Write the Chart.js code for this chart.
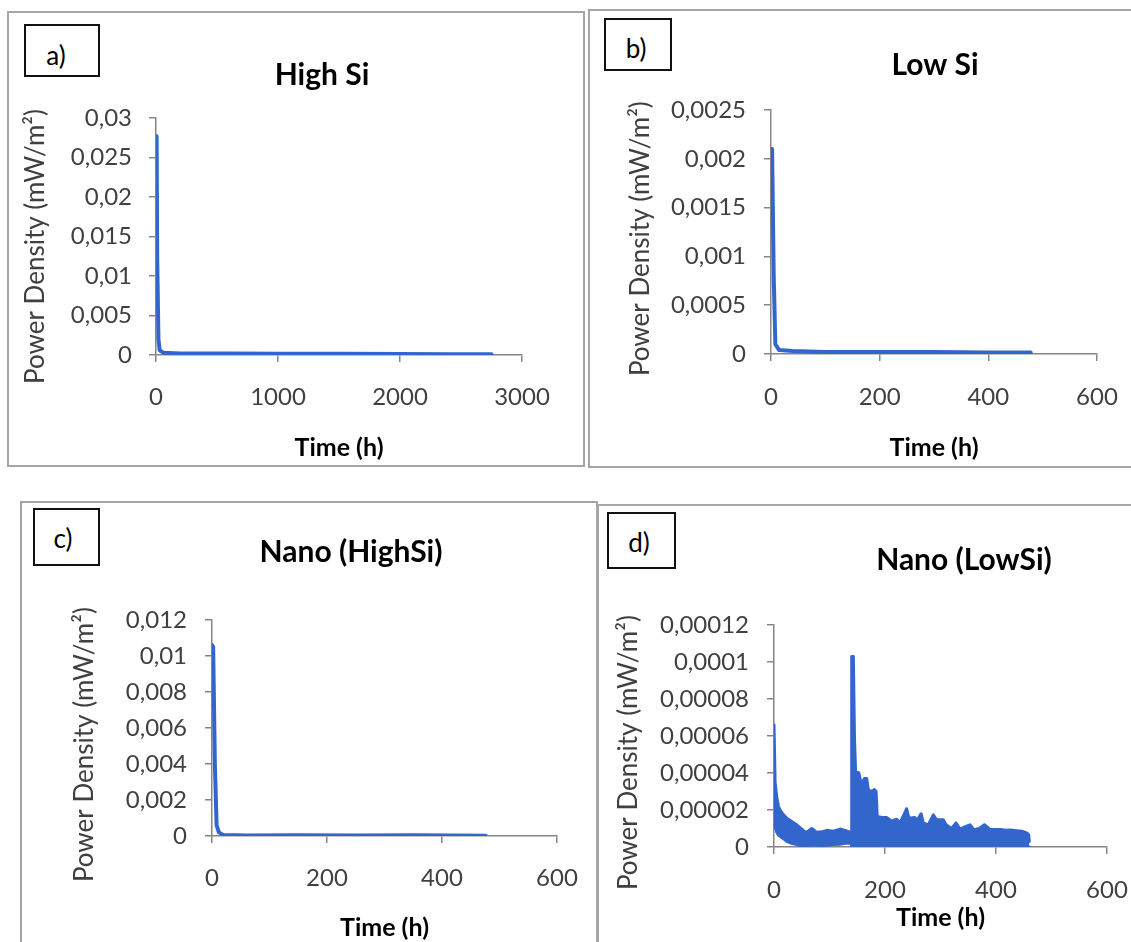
<!DOCTYPE html>
<html>
<head>
<meta charset="utf-8">
<script src="https://cdn.jsdelivr.net/npm/chart.js@4.4.1/dist/chart.umd.min.js"></script>
<style>
  html, body { margin: 0; padding: 0; background: #fff; }
  body { position: relative; width: 1131px; height: 942px; overflow: hidden; font-family: Lato, "Open Sans", sans-serif; }
  .panel { position: absolute; box-sizing: border-box; border: 2px solid #a6a6a6; }
  .tag { position: absolute; box-sizing: border-box; border: 2px solid #111; background: #fff;
         font-size: 26px; color: #000; z-index: 2; }
  .tag span { position: absolute; transform: translate(-50%, -50%); white-space: nowrap; }
</style>
</head>
<body>
<script>
// a) High Si
const highSiTime  = [0, 5, 10, 20, 30, 60, 200, 600, 1000, 1500, 2000, 2400, 2750];
const highSiPower = [0.0277, 0.0276, 0.012, 0.002, 0.0006, 0.0003, 0.0002, 0.0002, 0.00015, 0.00015, 0.00012, 0.0001, 0.0001];
const highSiYTicks = [0, 0.005, 0.01, 0.015, 0.02, 0.025, 0.03];
const highSiXTicks = [0, 1000, 2000, 3000];

// b) Low Si
const lowSiTime  = [0, 2, 5, 8, 15, 40, 100, 200, 300, 400, 478];
const lowSiPower = [0.0021, 0.0021, 0.0008, 0.0001, 0.00004, 0.00003, 0.00002, 0.00002, 0.00002, 0.000015, 0.000015];
const lowSiYTicks = [0, 0.0005, 0.001, 0.0015, 0.002, 0.0025];

// c) Nano (HighSi)
const nanoHighTime  = [0, 2, 5, 8, 12, 20, 60, 150, 250, 350, 476];
const nanoHighPower = [0.0106, 0.0105, 0.004, 0.0006, 0.0002, 0.00005, 0.00003, 0.00004, 0.00003, 0.00004, 0.00002];
const nanoHighYTicks = [0, 0.002, 0.004, 0.006, 0.008, 0.01, 0.012];

// d) Nano (LowSi) - upper and lower edge of the noisy band
const nanoLowTime = [0, 2, 5, 8, 11, 17, 23, 32, 41, 50, 56, 62, 68, 77, 86, 95, 107, 119, 128, 137, 139,
  140, 143, 145, 147, 153, 157, 163, 167, 170, 175, 181, 184, 186, 195, 203, 212, 221, 227, 235, 239, 243,
  253, 258, 265, 269, 278, 287, 293, 305, 310, 320, 328, 335, 345, 353, 360, 370, 379, 390, 400, 408, 418,
  426, 437, 447, 456, 459, 460];
const nanoLowUpper = [0.000066, 0.000035, 0.000027, 0.000022, 0.00002, 0.0000174, 0.0000156, 0.0000138, 0.000012,
  0.0000097, 0.000008, 0.0000085, 0.00001, 0.000008, 0.0000082, 0.000009, 0.0000085, 0.0000097, 0.000009, 0.000008, 0.000008,
  0.000103, 0.000103, 0.000059, 0.000041, 0.00004, 0.000034, 0.000037, 0.000037, 0.000031, 0.00003, 0.000031, 0.00003,
  0.0000165, 0.000016, 0.000016, 0.000014, 0.000015, 0.000013, 0.000018, 0.0000207, 0.0000156, 0.000016, 0.0000144,
  0.000018, 0.000013, 0.000012, 0.0000174, 0.0000147, 0.0000147, 0.000012, 0.00001, 0.000013, 0.0000097, 0.000011,
  0.000012, 0.0000094, 0.00001, 0.000012, 0.0000094, 0.0000095, 0.0000094, 0.000009, 0.0000092, 0.0000088, 0.0000085,
  0.0000075, 0.0000065, 0.000003];
const nanoLowLower = [0.000013, 0.000011, 0.000008, 0.0000065, 0.0000058, 0.0000045, 0.000003, 0.000002, 0.0000013,
  0.0000006, 0.0000004, 0.0000005, 0.000001, 0.000001, 0.0000007, 0.000001, 0.0000013, 0.0000015, 0.000002, 0.000002, 0.000002,
  0, 0, 0, 0, 0, 0, 0, 0, 0, 0, 0, 0,
  0, 0, 0, 0, 0, 0, 0, 0, 0, 0, 0,
  0, 0, 0, 0, 0, 0, 0, 0, 0, 0, 0,
  0, 0, 0, 0, 0, 0, 0, 0, 0, 0, 0,
  0, 0, 0];
const nanoLowYTicks = [0, 0.00002, 0.00004, 0.00006, 0.00008, 0.0001, 0.00012];

const time600Ticks = [0, 200, 400, 600];
const panelTitles = ['High Si', 'Low Si', 'Nano (HighSi)', 'Nano (LowSi)'];
const panelTags = ['a)', 'b)', 'c)', 'd)'];
const xAxisTitle = 'Time (h)';
const yAxisTitle = 'Power Density (mW/m²)';

const blue = '#3366cc';
const axisGray = '#868686';
const fontFamily = 'Lato, "Open Sans", sans-serif';

window.onload = function() {
    Chart.defaults.font.family = fontFamily;

    const panels = [
        {time: highSiTime, lines: [highSiPower], yTicks: highSiYTicks, xTicks: highSiXTicks, lw: 4,
         box: {l: 7, t: 11, w: 578, h: 456}, tag: {l: 24, t: 24, w: 76, h: 53, tx: 56, ty: 55},
         canvas: {l: 8, t: 12, h: 454}, area: {l: 156, r: 522, t: 118, b: 355},
         titleX: 322, titleY: 75, yTitleX: 36, yTitleY: 248, xTitleY: 448, xLabelY: 397, yLabelR: 132},
        {time: lowSiTime, lines: [lowSiPower], yTicks: lowSiYTicks, xTicks: time600Ticks, lw: 4,
         box: {l: 588, t: 9, w: 560, h: 459}, tag: {l: 604, t: 18, w: 68, h: 53, tx: 636, ty: 48},
         canvas: {l: 591, t: 10, h: 457}, area: {l: 771, r: 1097, t: 110, b: 354},
         titleX: 935, titleY: 65, yTitleX: 641, yTitleY: 240, xTitleY: 448, xLabelY: 397, yLabelR: 746},
        {time: nanoHighTime, lines: [nanoHighPower], yTicks: nanoHighYTicks, xTicks: time600Ticks, lw: 4,
         box: {l: 20, t: 501, w: 578, h: 460}, tag: {l: 33, t: 508, w: 67, h: 58, tx: 63, ty: 538},
         canvas: {l: 23, t: 502, h: 440}, area: {l: 212, r: 557, t: 620, b: 836},
         titleX: 351, titleY: 552, yTitleX: 85, yTitleY: 745, xTitleY: 928, xLabelY: 878, yLabelR: 187},
        {time: nanoLowTime, lines: [nanoLowUpper, nanoLowLower], yTicks: nanoLowYTicks, xTicks: time600Ticks, lw: 3,
         box: {l: 597, t: 504, w: 560, h: 460}, tag: {l: 607, t: 512, w: 69, h: 57, tx: 639, ty: 542},
         canvas: {l: 600, t: 505, h: 437}, area: {l: 774, r: 1107, t: 625, b: 847},
         titleX: 964, titleY: 560, yTitleX: 629, yTitleY: 753, xTitleY: 918, xLabelY: 890, yLabelR: 749}
    ];

    const fmt = v => String(v).replace('.', ',');
    const tl = 7, tickSize = 24, axTitleSize = 26, xTitleSize = 25, titleSize = 30, lh = 1.2;

    // width of a space, used to nudge the rotated y title down (trailing blanks sit at its top end)
    const mctx = document.createElement('canvas').getContext('2d');
    mctx.font = `${axTitleSize}px ${fontFamily}`;
    const spaceW = mctx.measureText(' ').width;

    panels.forEach((p, idx) => {
        const frame = document.createElement('div');
        frame.className = 'panel';
        frame.style.cssText = `left:${p.box.l}px;top:${p.box.t}px;width:${p.box.w}px;height:${p.box.h}px`;
        document.body.appendChild(frame);

        const tag = document.createElement('div');
        tag.className = 'tag';
        tag.style.cssText = `left:${p.tag.l}px;top:${p.tag.t}px;width:${p.tag.w}px;height:${p.tag.h}px`;
        const span = document.createElement('span');
        span.textContent = panelTags[idx];
        span.style.left = (p.tag.tx - p.tag.l - 2) + 'px';
        span.style.top = (p.tag.ty - p.tag.t - 2) + 'px';
        tag.appendChild(span);
        document.body.appendChild(tag);

        const cl = p.canvas.l, ct = p.canvas.t;
        const cw = 2 * (p.titleX - cl);
        const cv = document.createElement('canvas');
        cv.width = cw;
        cv.height = p.canvas.h;
        cv.style.cssText = `position:absolute;left:${cl}px;top:${ct}px;width:${cw}px;height:${p.canvas.h}px`;
        document.body.appendChild(cv);

        // boxes: y axis on the left, an empty spacer axis on the right, title spans the full canvas
        const yW = p.area.l - cl;
        const yTitlePad = p.yTitleX - cl - axTitleSize * lh / 2;
        const rightW = cl + cw - p.area.r;
        const tPadTop = p.titleY - ct - titleSize * lh / 2;
        const tPadBottom = p.area.t - p.titleY - titleSize * lh / 2;
        const xH = p.xTitleY - p.area.b + xTitleSize * lh / 2;
        const padBottom = ct + p.canvas.h - p.area.b - xH;
        const xPad = p.xLabelY - p.area.b - tl - tickSize * lh / 2;
        const yPad = p.area.l - p.yLabelR - tl;
        const shift = p.yTitleY - (p.area.t + p.area.b) / 2;
        const yTitleText = yAxisTitle + ' '.repeat(Math.max(0, Math.round(2 * shift / spaceW)));

        const datasets = p.lines.map((vals, i) => ({
            data: p.time.map((t, k) => ({x: t, y: vals[k]})),
            borderColor: blue,
            backgroundColor: blue,
            borderWidth: p.lw,
            pointRadius: 0,
            tension: 0,
            borderJoinStyle: 'round',
            borderCapStyle: 'round',
            fill: (p.lines.length > 1 && i === 0) ? '+1' : false
        }));

        const grid = {drawOnChartArea: false, drawTicks: true, tickLength: tl, color: axisGray, lineWidth: 1.5};
        const border = {display: true, color: axisGray, width: 1.5};

        new Chart(cv.getContext('2d'), {
            type: 'line',
            data: {datasets: datasets},
            options: {
                responsive: false,
                animation: false,
                devicePixelRatio: 1,
                layout: {padding: {left: 0, right: 0, top: 0, bottom: padBottom}},
                plugins: {
                    legend: {display: false},
                    tooltip: {enabled: false},
                    title: {
                        display: true,
                        text: panelTitles[idx],
                        color: '#000',
                        font: {size: titleSize, weight: 'bold', lineHeight: lh},
                        padding: {top: tPadTop, bottom: tPadBottom}
                    }
                },
                scales: {
                    x: {
                        type: 'linear',
                        min: p.xTicks[0],
                        max: p.xTicks[p.xTicks.length - 1],
                        afterBuildTicks: s => { s.ticks = p.xTicks.map(v => ({value: v})); },
                        afterFit: s => { s.height = xH; },
                        ticks: {autoSkip: false, maxRotation: 0, padding: xPad, color: '#404040',
                                font: {size: tickSize}, callback: fmt},
                        grid: grid,
                        border: border,
                        title: {display: true, text: xAxisTitle, color: '#000', padding: 0,
                                font: {size: xTitleSize, weight: 'bold', lineHeight: lh}}
                    },
                    y: {
                        type: 'linear',
                        position: 'left',
                        min: p.yTicks[0],
                        max: p.yTicks[p.yTicks.length - 1],
                        afterBuildTicks: s => { s.ticks = p.yTicks.map(v => ({value: v})); },
                        afterFit: s => { s.width = yW; },
                        ticks: {autoSkip: false, padding: yPad, color: '#404040',
                                font: {size: tickSize}, callback: fmt},
                        grid: grid,
                        border: border,
                        title: {display: true, text: yTitleText, color: '#404040',
                                padding: {top: yTitlePad, bottom: 0},
                                font: {size: axTitleSize, lineHeight: lh}}
                    },
                    spacer: {
                        type: 'linear',
                        position: 'right',
                        display: true,
                        ticks: {display: false},
                        grid: {display: false},
                        border: {display: false},
                        title: {display: false},
                        afterFit: s => { s.width = rightW; }
                    }
                }
            }
        });
    });
};
</script>
</body>
</html>
